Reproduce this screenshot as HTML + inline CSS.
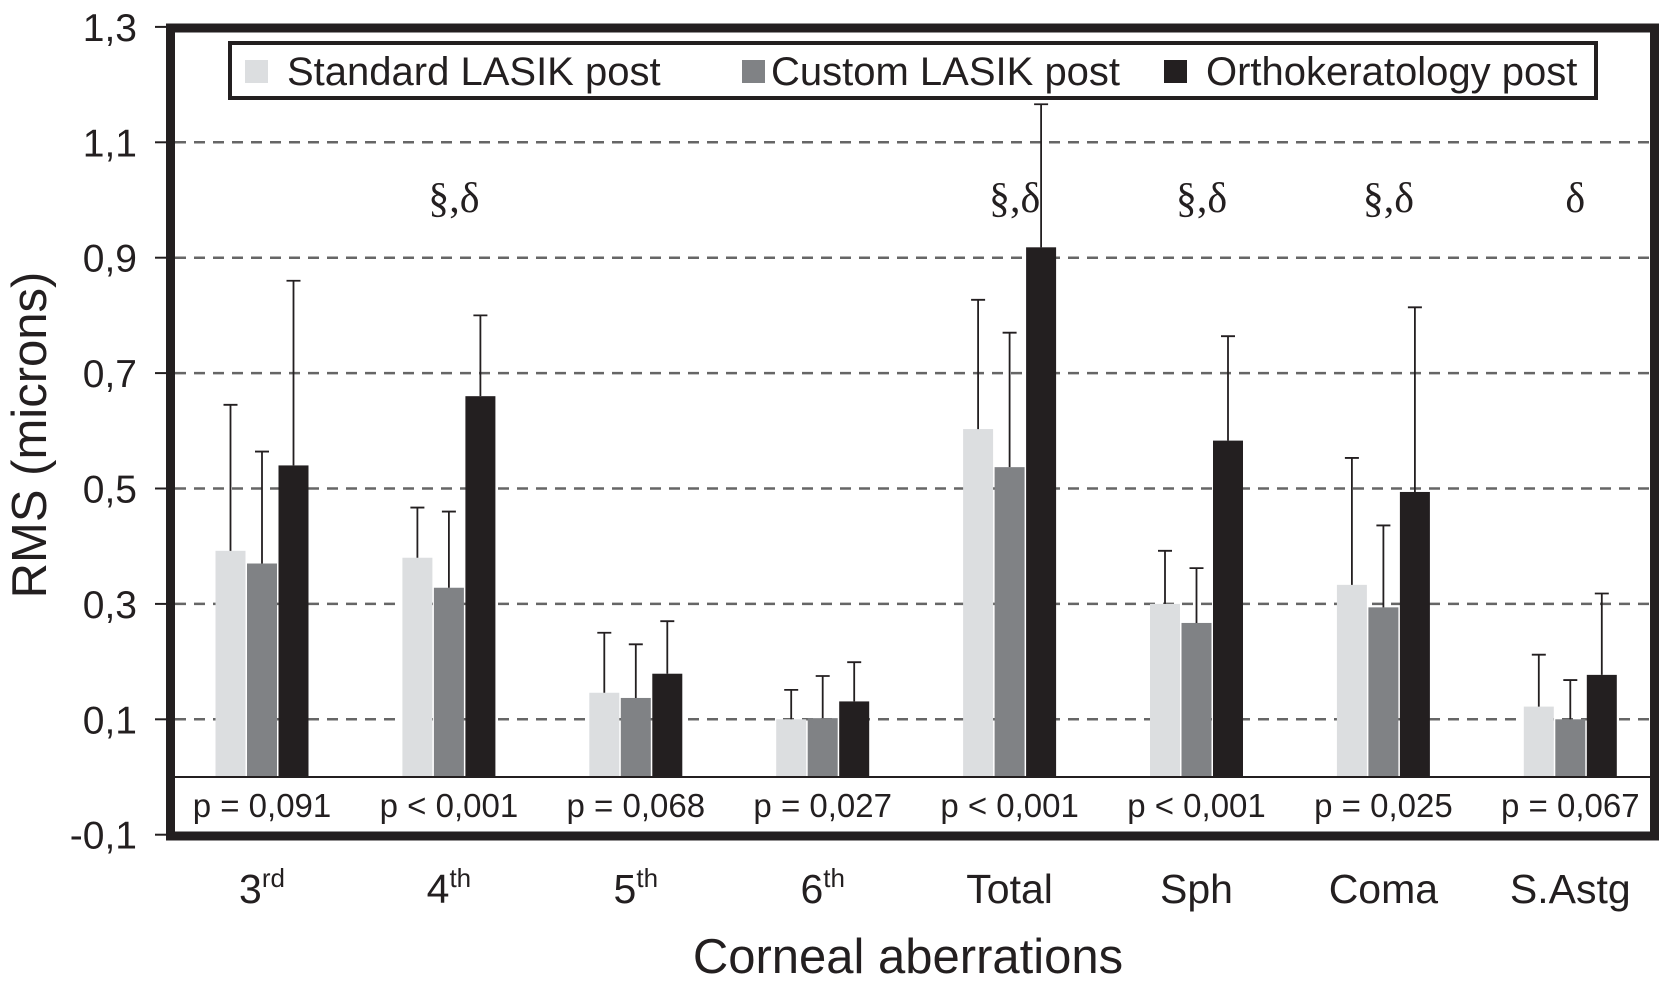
<!DOCTYPE html>
<html><head><meta charset="utf-8"><style>
body{margin:0;background:#fff}
svg{display:block}
text{font-family:"Liberation Sans",sans-serif;fill:#231f20}
</style></head><body>
<svg id="chart" width="1663" height="999" viewBox="0 0 1663 999" xmlns="http://www.w3.org/2000/svg"></svg>
<script>
const categories = ["3rd","4th","5th","6th","Total","Sph","Coma","S.Astg"];
const supers = ["rd","th","th","th","","","",""];
const standardValues = [0.392,0.38,0.146,0.10,0.603,0.30,0.333,0.122];
const customValues = [0.37,0.328,0.137,0.102,0.537,0.267,0.294,0.10];
const orthoValues = [0.54,0.66,0.179,0.131,0.918,0.583,0.494,0.177];
const standardErr = [0.645,0.467,0.25,0.151,0.827,0.392,0.553,0.212];
const customErr = [0.564,0.46,0.23,0.175,0.77,0.362,0.436,0.168];
const orthoErr = [0.86,0.80,0.27,0.199,1.166,0.764,0.814,0.318];
const pLabels = ["p = 0,091","p < 0,001","p = 0,068","p = 0,027","p < 0,001","p < 0,001","p = 0,025","p = 0,067"];
const sigLabels = ["","§,δ","","","§,δ","§,δ","§,δ","δ"];
const yTicks = [1.3,1.1,0.9,0.7,0.5,0.3,0.1,-0.1];
const yTickLabels = ["1,3","1,1","0,9","0,7","0,5","0,3","0,1","-0,1"];
const gridValues = [1.1,0.9,0.7,0.5,0.3,0.1];

const svg = document.getElementById('chart');
const NS = "http://www.w3.org/2000/svg";
function el(tag, attrs, parent){const e=document.createElementNS(NS,tag);for(const k in attrs)e.setAttribute(k,attrs[k]);(parent||svg).appendChild(e);return e;}
const y = v => 777 - v*577;
const x = i => 262 + i*186.9;
const colors = ["#dcdee0","#808285","#231f20"];
const series = [standardValues, customValues, orthoValues];
const errs = [standardErr, customErr, orthoErr];
const bw = 30;

gridValues.forEach(v=>{
  const g = el('line',{x1:175,x2:1652,y1:y(v),y2:y(v),stroke:'#666','stroke-width':2.5,'stroke-dasharray':'11 8'});
  
  
});
categories.forEach((c,i)=>{
  series.forEach((s,j)=>{
    const cx = x(i) + (j-1)*(bw+1.5);
    const r = el('rect',{x:cx-bw/2,y:y(s[i]),width:bw,height:y(0)-y(s[i]),fill:colors[j]});
    
    
    const e = el('path',{d:`M${cx} ${y(s[i])}V${y(errs[j][i])}M${cx-7} ${y(errs[j][i])}H${cx+7}`,stroke:'#231f20','stroke-width':1.8,fill:'none'});
    
    
  });
  const p = el('text',{x:x(i),y:817,'font-size':33,'text-anchor':'middle'});
  p.textContent = pLabels[i];
  
  
  if(sigLabels[i]){
    const s = el('text',{x:x(i)+5,y:212,'font-size':42,'text-anchor':'middle',style:'font-family:"Liberation Serif",serif'});
    s.textContent = sigLabels[i];
    
    
  }
  const t = el('text',{x:x(i),y:903,'font-size':41,'text-anchor':'middle'});
  
  
  t.appendChild(document.createTextNode(c.replace(supers[i],'')));
  if(supers[i]){const ts=el('tspan',{'font-size':26,dy:-16},t);ts.textContent=supers[i];}
});
const z = el('line',{x1:175,x2:1652,y1:y(0),y2:y(0),stroke:'#231f20','stroke-width':2});

const f = el('rect',{x:170.5,y:28,width:1484,height:808,fill:'none',stroke:'#231f20','stroke-width':9});

yTicks.forEach((v,i)=>{
  const tk = el('line',{x1:155,x2:168,y1:y(v),y2:y(v),stroke:'#231f20','stroke-width':2});
  
  const tl = el('text',{x:137,y:y(v)+14,'font-size':39,'text-anchor':'end'});
  tl.textContent = yTickLabels[i];
  
});
const lg = el('g',{});

el('rect',{x:230,y:43,width:1366,height:55,fill:'#fff',stroke:'#231f20','stroke-width':4},lg);
[["Standard LASIK post",245,287],["Custom LASIK post",742,771],["Orthokeratology post",1164,1206]].forEach((it,j)=>{
  const g = el('g',{},lg);
  
  el('rect',{x:it[1],y:60,width:23,height:23,fill:colors[j]},g);
  const t = el('text',{x:it[2],y:85,'font-size':40,textLength:0},g);t.removeAttribute('textLength');t.textContent=it[0];
});
const xt = el('text',{x:908,y:973,'font-size':49,'text-anchor':'middle'});
xt.textContent='Corneal aberrations';
const yt = el('text',{x:0,y:0,'font-size':49,'text-anchor':'middle',transform:'translate(46,435) rotate(-90)'});
yt.textContent='RMS (microns)';
</script>
</body></html>
